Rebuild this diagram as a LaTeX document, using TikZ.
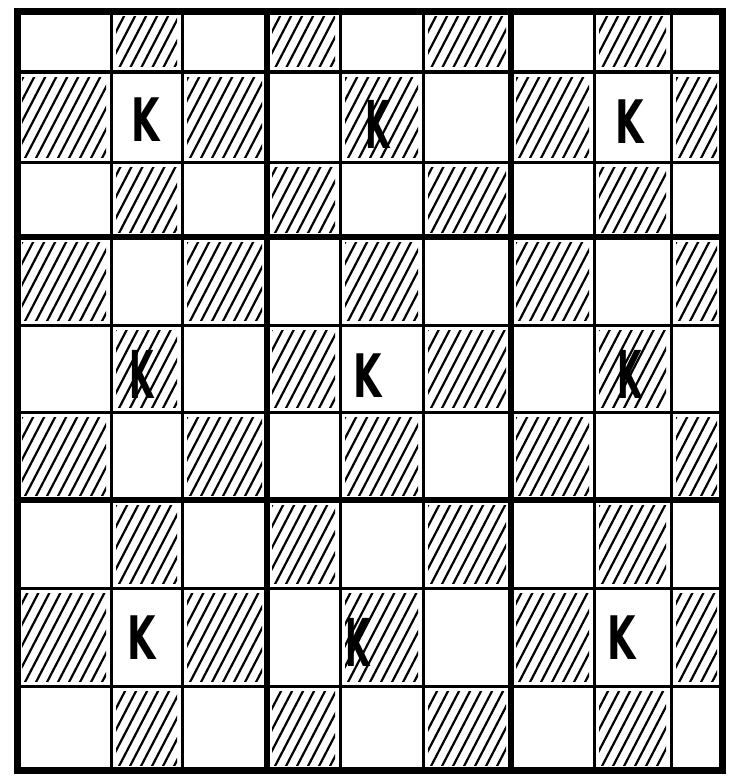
\documentclass[tikz,border=0pt]{standalone}
\usepackage{fontspec}
\setsansfont{DejaVu Sans Condensed}
\usetikzlibrary{positioning}
\tikzset{
  kletter/.style={font=\sffamily\bfseries\fontsize{60}{60}\selectfont, xscale=0.68, inner sep=0pt},
  kbold/.style={kletter, font=\sffamily\bfseries\fontsize{66}{66}\selectfont, xscale=0.78}
}
\begin{document}
\begin{tikzpicture}[x=1pt, y=-1pt, line cap=round]
  \useasboundingbox (0,0) rectangle (728,784);

  % hatched cells (checkerboard)
  \foreach \xa/\xb/\c in {17/111/0, 111/182/1, 182/267/2, 267/340/3, 340/423/4, 423/511/5, 511/594/6, 594/671/7, 671/722/8}
    \foreach \ya/\yb/\r in {12/72/0, 72/162/1, 162/237/2, 237/325/3, 325/412/4, 412/500/5, 500/588/6, 588/686/7, 686/770/8} {
      \pgfmathtruncatemacro\s{\c+\r}
      \ifodd\s
        \begin{scope}
          \clip (\xa+5,\ya+5) rectangle (\xb-5,\yb-5);
          \foreach \k in {-60,-49,...,110}
            \draw[line width=2.2pt] (\xa+\k,\yb) -- ++(52,-100);
        \end{scope}
      \fi
    }

  % thin grid lines
  \draw[line width=3pt] foreach \x in {111,182,340,423,594,671} {(\x,12) -- (\x,770)};
  \draw[line width=3pt] foreach \y in {72,162,325,412,588,686} {(17,\y) -- (722,\y)};

  % block lines
  \draw[line width=6.5pt] foreach \x in {267,511} {(\x,12) -- (\x,770)};
  \draw[line width=6.5pt] foreach \y in {237,500} {(17,\y) -- (722,\y)};
  \draw[line width=7pt] (17,12) rectangle (722,770);

  % letters
  \node[kletter] (k11) at (146,120) {K};
  \node[kbold]   (k14) at (378,124) {K};
  \node[kletter] (k17) at (630,122) {K};
  \node[kbold]   (k41) at (142,374) {K};
  \node[kletter] (k44) at (368,376) {K};
  \node[kbold]   (k47) at (630,374) {K};
  \node[kletter] (k71) at (142,638) {K};
  \node[kbold]   (k74) at (358,642) {K};
  \node[kletter] (k77) at (622,638) {K};
\end{tikzpicture}
\end{document}
